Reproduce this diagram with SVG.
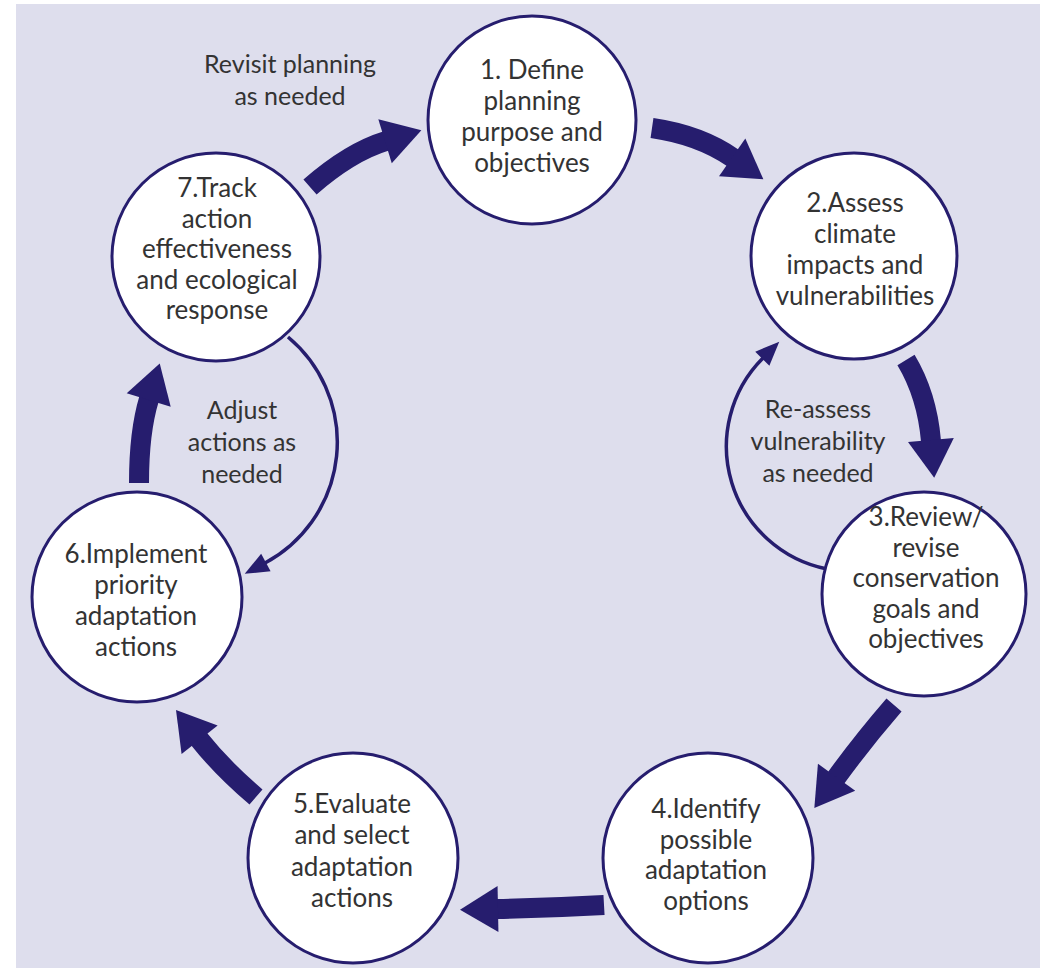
<svg xmlns="http://www.w3.org/2000/svg" width="1040" height="974" viewBox="0 0 1040 974">
<defs>
<style>
.node circle{fill:#ffffff;stroke:#261d6e;stroke-width:3}
.node text,.lbl text{font-family:Lato,"Open Sans","Liberation Sans",sans-serif;font-size:26px;fill:#333333;text-anchor:middle}
.lbl text{font-size:25px}
.thick{fill:none;stroke:#261d6e;stroke-width:20;marker-end:url(#headBig)}
.thin{fill:none;stroke:#261d6e;stroke-width:3.5;marker-end:url(#headSmall)}
</style>
<marker id="headBig" markerUnits="userSpaceOnUse" markerWidth="40" markerHeight="46" refX="1" refY="23" orient="auto" overflow="visible">
<path d="M0,0 L38,23 L0,46 Z" fill="#261d6e"/>
</marker>
<marker id="headSmall" markerUnits="userSpaceOnUse" markerWidth="24" markerHeight="20" refX="1" refY="10" orient="auto" overflow="visible">
<path d="M0,0 L24,10 L0,20 Z" fill="#261d6e"/>
</marker>
</defs>
<rect x="0" y="0" width="1040" height="974" fill="#ffffff"/>
<rect x="16" y="4" width="1024" height="964" fill="#dedeed"/>
<g id="connectors">
<path class="thick" d="M310,187 Q350,152 386,141"/>
<path class="thick" d="M652,128 Q700,135 733,158"/>
<path class="thick" d="M906,360 Q927,395 931,441"/>
<path class="thick" d="M894,705 Q862,742 836,778"/>
<path class="thick" d="M604,905 Q550,908 497,909"/>
<path class="thick" d="M256,797 Q222,768 199,739"/>
<path class="thick" d="M139,483 Q139,432 149,399"/>
<path class="thin" d="M288,337 A137,137 0 0 1 265,563"/>
<path class="thin" d="M827,569 A125,125 0 0 1 763,358"/>
</g>
<g id="node1" class="node"><circle cx="532" cy="120" r="104"/>
<text x="532" y="79">1. Define</text><text x="532" y="110">planning</text><text x="532" y="141">purpose and</text><text x="532" y="172">objectives</text></g>
<g id="node2" class="node"><circle cx="854" cy="256" r="103"/>
<text x="855" y="212">2.Assess</text><text x="855" y="243">climate</text><text x="855" y="274">impacts and</text><text x="855" y="305">vulnerabilities</text></g>
<g id="node3" class="node"><circle cx="924" cy="594" r="102"/>
<text x="926" y="526">3.Review/</text><text x="926" y="557">revise</text><text x="926" y="587">conservation</text><text x="926" y="618">goals and</text><text x="926" y="648">objectives</text></g>
<g id="node4" class="node"><circle cx="708" cy="858" r="105"/>
<text x="706" y="818">4.Identify</text><text x="706" y="849">possible</text><text x="706" y="879">adaptation</text><text x="706" y="910">options</text></g>
<g id="node5" class="node"><circle cx="353" cy="858" r="105"/>
<text x="352" y="813">5.Evaluate</text><text x="352" y="844">and select</text><text x="352" y="876">adaptation</text><text x="352" y="907">actions</text></g>
<g id="node6" class="node"><circle cx="137" cy="597" r="105"/>
<text x="136" y="563">6.Implement</text><text x="136" y="594">priority</text><text x="136" y="625">adaptation</text><text x="136" y="656">actions</text></g>
<g id="node7" class="node"><circle cx="216" cy="257" r="104"/>
<text x="217" y="197">7.Track</text><text x="217" y="228">action</text><text x="217" y="258">effectiveness</text><text x="217" y="289">and ecological</text><text x="217" y="319">response</text></g>
<g id="label-revisit" class="lbl"><text x="290" y="73">Revisit planning</text><text x="290" y="105">as needed</text></g>
<g id="label-adjust" class="lbl"><text x="242" y="419">Adjust</text><text x="242" y="451">actions as</text><text x="242" y="483">needed</text></g>
<g id="label-reassess" class="lbl"><text x="818" y="418">Re-assess</text><text x="818" y="450">vulnerability</text><text x="818" y="482">as needed</text></g>
</svg>
